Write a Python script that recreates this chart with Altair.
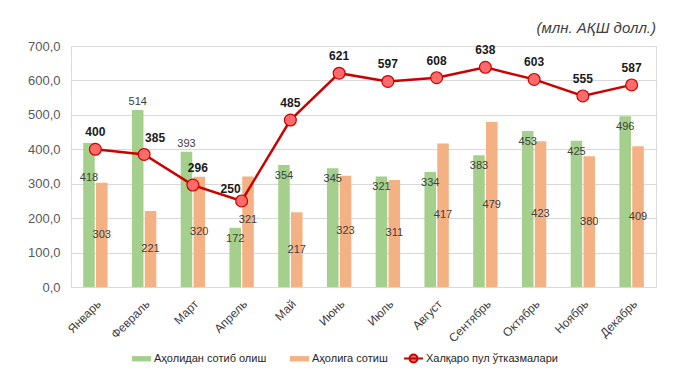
import altair as alt
import pandas as pd

months = ["Январь", "Февраль", "Март", "Апрель", "Май", "Июнь",
          "Июль", "Август", "Сентябрь", "Октябрь", "Ноябрь", "Декабрь"]
buy = [418, 514, 393, 172, 354, 345, 321, 334, 383, 453, 425, 496]
sell = [303, 221, 320, 321, 217, 323, 311, 417, 479, 423, 380, 409]
remit = [400, 385, 296, 250, 485, 621, 597, 608, 638, 603, 555, 587]

S_BUY = "Аҳолидан сотиб олиш"
S_SELL = "Аҳолига сотиш"
S_REM = "Халқаро пул ўтказмалари"

bars = pd.DataFrame(
    [{"month": m, "series": S_BUY, "value": v} for m, v in zip(months, buy)]
    + [{"month": m, "series": S_SELL, "value": v} for m, v in zip(months, sell)]
)
line = pd.DataFrame({"month": months, "value": remit, "series": S_REM})

FONT = "Liberation Sans"
line_path = "M-1,0H1M0.42,0A0.42,0.42,0,1,1,-0.42,0A0.42,0.42,0,1,1,0.42,0Z"
rect_path = "M-1,-0.28H1V0.28H-1Z"

x_axis = alt.Axis(labelAngle=-45, labelFontSize=12, labelColor="#404040",
                  labelFont=FONT, ticks=False, domain=False, labelPadding=11)
x_scale = alt.Scale(paddingInner=0.5, paddingOuter=0.25)
y_scale = alt.Scale(domain=[0, 700], nice=False)
y_axis = alt.Axis(values=[0, 100, 200, 300, 400, 500, 600, 700],
                  labelExpr="replace(format(datum.value, '.1f'), '.', ',')",
                  labelFontSize=13, labelColor="#595959", labelFont=FONT,
                  ticks=False, domain=False, gridColor="#D9D9D9",
                  labelPadding=11, labelOverlap=False, title=None)

def X():
    return alt.X("month:N", sort=months, title=None, scale=x_scale, axis=x_axis)

def Y(field="value:Q"):
    return alt.Y(field, scale=y_scale, axis=y_axis, title=None)

XOFF = alt.XOffset("series:N", sort=[S_BUY, S_SELL],
                   scale=alt.Scale(paddingInner=0.1, paddingOuter=0))

bar_legend = alt.Legend(
    title=None, orient="none", legendX=60, legendY=302, direction="horizontal",
    labelFontSize=11, labelFont=FONT, labelColor="#262626",
    symbolType=rect_path, symbolSize=361, labelOffset=2, columnPadding=22,
    symbolOpacity=1,
)
line_legend = alt.Legend(
    title=None, orient="none", legendX=332, legendY=302, direction="horizontal",
    labelFontSize=11, labelFont=FONT, labelColor="#262626",
    symbolType=line_path, symbolSize=361, labelOffset=2,
    symbolFillColor="#FF6B6B", symbolStrokeWidth=2, symbolOpacity=1,
)

bar_layer = alt.Chart(bars).mark_bar().encode(
    x=X(), y=Y(), xOffset=XOFF,
    color=alt.Color("series:N", sort=[S_BUY, S_SELL],
                    scale=alt.Scale(domain=[S_BUY, S_SELL], range=["#A5CF8C", "#F4B183"]),
                    legend=bar_legend),
)

def green_text(filt, dy):
    return alt.Chart(bars).transform_filter(
        f"datum.series === '{S_BUY}'"
    ).transform_filter(filt).mark_text(
        dy=dy, fontSize=11, font=FONT, color="#404040", baseline="middle"
    ).encode(x=X(), xOffset=XOFF, y=Y(), text="value:Q")

g_default = green_text("indexof(['Январь','Февраль','Март'], datum.month) < 0", 11)
g_jan = green_text("datum.month === 'Январь'", 35)
g_above = green_text("datum.month === 'Февраль' || datum.month === 'Март'", -8)

def orange_text(filt, dy):
    return alt.Chart(bars).transform_filter(
        f"datum.series === '{S_SELL}'"
    ).transform_filter(filt).transform_calculate(mid="datum.value / 2").mark_text(
        dy=dy, fontSize=11, font=FONT, color="#404040", baseline="middle"
    ).encode(x=X(), xOffset=XOFF, y=Y("mid:Q"), text="value:Q")

o_default = orange_text("datum.month !== 'Апрель'", 0)
o_apr = orange_text("datum.month === 'Апрель'", -12)

line_layer = alt.Chart(line).mark_line(strokeWidth=2.5).encode(
    x=X(), y=Y(),
    stroke=alt.Stroke("series:N", scale=alt.Scale(domain=[S_REM], range=["#CC0000"]),
                      legend=line_legend),
)
point_layer = alt.Chart(line).mark_point(
    filled=True, fill="#FF6B6B", stroke="#CC0000", strokeWidth=1.2, size=140, opacity=1
).encode(x=X(), y=Y())

def line_text(filt, dx, dy):
    return alt.Chart(line).transform_filter(filt).mark_text(
        dx=dx, dy=dy, fontSize=12, font=FONT, fontWeight="bold", color="#1a1a1a",
        baseline="middle"
    ).encode(x=X(), y=Y(), text="value:Q")

l_default = line_text("indexof(['Февраль','Март','Апрель'], datum.month) < 0", 0, -17)
l_feb = line_text("datum.month === 'Февраль'", 11, -16)
l_mar = line_text("datum.month === 'Март'", 5, -17)
l_apr = line_text("datum.month === 'Апрель'", -11, -12)

chart = alt.layer(
    bar_layer, g_default, g_jan, g_above, o_default, o_apr,
    line_layer, point_layer, l_default, l_feb, l_mar, l_apr,
).properties(
    width=585, height=241,
    title=alt.TitleParams("(млн. АҚШ долл.)", anchor="end", fontStyle="italic",
                          fontSize=15, fontWeight="normal", color="#404040",
                          font=FONT, offset=4),
    padding={"left": 19, "top": 13, "right": 10, "bottom": 4},
).configure_view(stroke="#D9D9D9").configure(background="white")

chart.save("out.html", embed_options={"renderer": "svg", "actions": False})
